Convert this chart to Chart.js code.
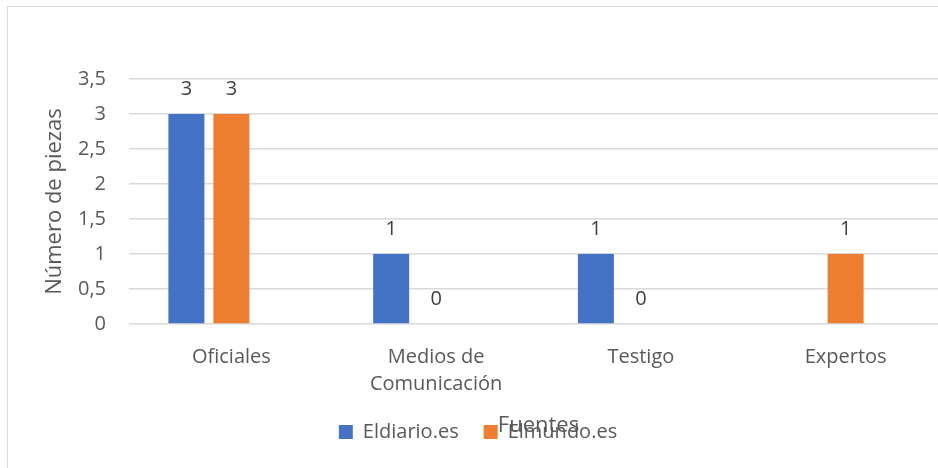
<!DOCTYPE html>
<html>
<head>
<meta charset="utf-8">
<script src="https://cdn.jsdelivr.net/npm/chart.js@4/dist/chart.umd.min.js"></script>
<style>
  html, body { margin: 0; padding: 0; background: #fff; overflow: hidden; }
  .frame { position: absolute; left: 7px; top: 6px; border: 1px solid #d9d9d9; width: 948px; height: 465px; }
  canvas { display: block; }
</style>
</head>
<body>
<div class="frame"><canvas id="chart" width="948" height="465"></canvas></div>
<script>
"use strict";

const categories = ["Oficiales", ["Medios de", "Comunicación"], "Testigo", "Expertos"];
const eldiarioValues = [3, 1, 1, null];
const elmundoValues = [3, 0, 0, 1];
const emptyValues = [null, null, null, null]; // empty third series, keeps the bar slots like the original
const yTicks = [0, 0.5, 1, 1.5, 2, 2.5, 3, 3.5];

const textColor = "#595959";
const gridColor = "#d9d9d9";

Chart.defaults.font.family = "'Open Sans', sans-serif";
Chart.defaults.color = textColor;

// values above each bar, positions taken from the bar elements
const barLabels = {
    id: "barLabels",
    afterDatasetsDraw(chart) {
        const ctx = chart.ctx;
        ctx.save();
        ctx.font = "20px 'Open Sans', sans-serif";
        ctx.fillStyle = "#404040";
        ctx.textAlign = "center";
        ctx.textBaseline = "middle";
        chart.data.datasets.forEach((ds, i) => {
            const meta = chart.getDatasetMeta(i);
            meta.data.forEach((bar, j) => {
                const v = ds.data[j];
                if (v === null || v === undefined) return;
                ctx.fillText(String(v), bar.x, bar.y - 25);
            });
        });
        ctx.restore();
    }
};

const ctx = document.getElementById("chart").getContext("2d");

new Chart(ctx, {
    type: "bar",
    data: {
        labels: categories,
        datasets: [
            { label: "Eldiario.es", data: eldiarioValues, backgroundColor: "#4472c4", borderWidth: 0 },
            { label: "Elmundo.es", data: elmundoValues, backgroundColor: "#ed7d31", borderWidth: 0 },
            { label: "", data: emptyValues, backgroundColor: "#a5a5a5", borderWidth: 0 }
        ]
    },
    options: {
        responsive: false,
        animation: false,
        categoryPercentage: 0.659,
        barPercentage: 0.8,
        layout: { padding: { top: 72, right: 8, bottom: 20, left: 0 } },
        plugins: {
            legend: {
                position: "bottom",
                labels: {
                    boxWidth: 14,
                    boxHeight: 14,
                    padding: 25,
                    color: textColor,
                    font: { size: 20 },
                    filter: item => item.text !== ""
                }
            },
            tooltip: { enabled: false }
        },
        scales: {
            x: {
                grid: { display: false },
                border: { display: false },
                ticks: { color: textColor, font: { size: 20, lineHeight: 1.35 }, padding: 12, maxRotation: 0 },
                title: {
                    display: true,
                    text: "Fuentes",
                    color: textColor,
                    font: { size: 22 },
                    padding: { top: 0, bottom: -42 }
                },
                afterFit(scale) { scale.height = 73; }
            },
            y: {
                min: 0,
                max: 3.5,
                afterBuildTicks(scale) { scale.ticks = yTicks.map(v => ({ value: v })); },
                grid: { color: gridColor, lineWidth: 1.5, drawTicks: false },
                border: { display: false },
                ticks: {
                    color: textColor,
                    font: { size: 20 },
                    padding: 23,
                    callback: v => String(v).replace(".", ",")
                },
                title: {
                    display: true,
                    text: "Número de piezas",
                    color: textColor,
                    font: { size: 22 },
                    padding: { top: 34, bottom: 0 }
                },
                afterFit(scale) { scale.width = 121; }
            }
        }
    },
    plugins: [barLabels]
});
</script>
</body>
</html>
